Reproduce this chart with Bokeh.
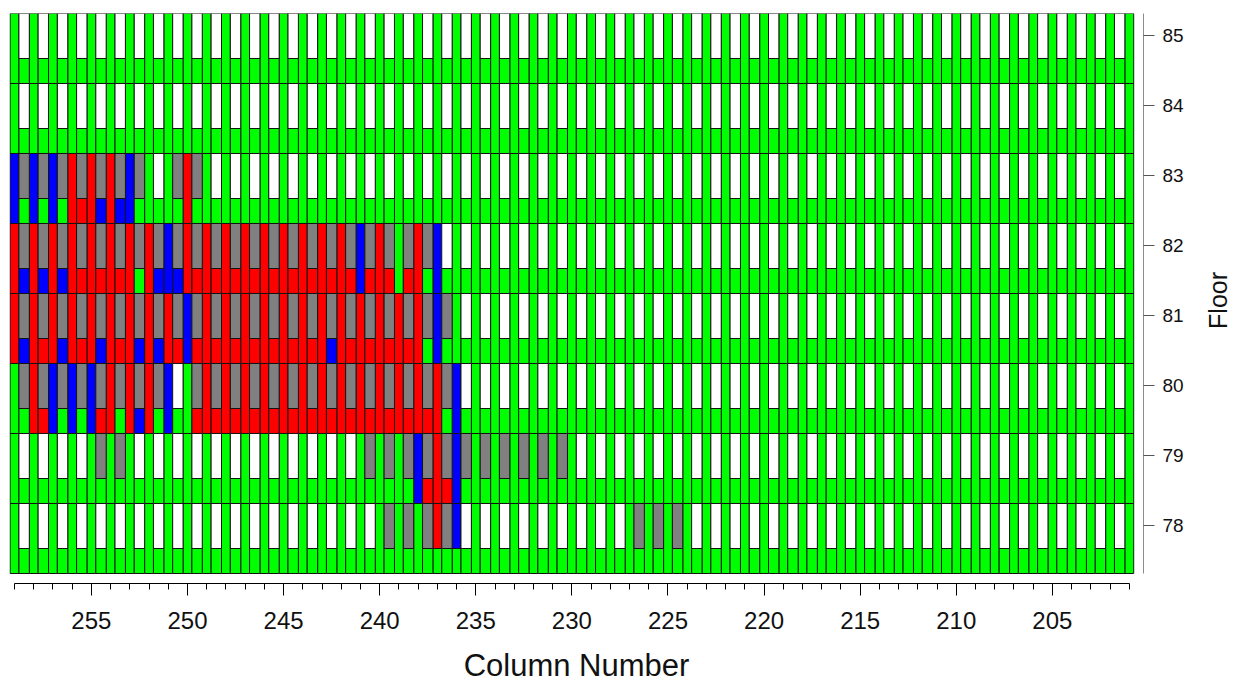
import math
from bokeh.plotting import figure
from bokeh.layouts import row
from bokeh.core.properties import value
from bokeh.models import Range1d, SingleIntervalTicker, FixedTicker, ColumnDataSource
from bokeh.embed import file_html
from bokeh.resources import INLINE

# ---------------- data ----------------
FLOORS = [85, 84, 83, 82, 81, 80, 79, 78]
COLUMNS = list(range(259, 200, -1))          # column numbers 259 -> 201 (piers)
Y_TITLE = "Floor"
X_TITLE = "Column Number"

# codes: G green, W white, Y gray, R red, B blue
# piers (upper part), columns 259 -> 201, grouped by 5
PIER_UP = {
    85: "GGGGG GGGGG GGGGG GGGGG GGGGG GGGGG GGGGG GGGGG GGGGG GGGGG GGGGG GGGG",
    84: "GGGGG GGGGG GGGGG GGGGG GGGGG GGGGG GGGGG GGGGG GGGGG GGGGG GGGGG GGGG",
    83: "BBBRR RBGGR GGGGG GGGGG GGGGG GGGGG GGGGG GGGGG GGGGG GGGGG GGGGG GGGG",
    82: "RRRRR RRRBR RRRRR RRRBR GRBGG GGGGG GGGGG GGGGG GGGGG GGGGG GGGGG GGGG",
    81: "RRRRR RRRRB RRRRR RRRRR RRBGG GGGGG GGGGG GGGGG GGGGG GGGGG GGGGG GGGG",
    80: "GRBBB RRRBG RRRRR RRRRR RRRBG GGGGG GGGGG GGGGG GGGGG GGGGG GGGGG GGGG",
    79: "GGGGG GGGGG GGGGG GGGGG GBRBG GGGGG GGGGG GGGGG GGGGG GGGGG GGGGG GGGG",
    78: "GGGGG GGGGG GGGGG GGGGG GGRBG GGGGG GGGGG GGGGG GGGGG GGGGG GGGGG GGGG",
}
# piers (lower part, spandrel level)
PIER_LOW = {
    85: PIER_UP[85], 84: PIER_UP[84], 83: PIER_UP[83], 82: PIER_UP[82],
    81: PIER_UP[81], 80: PIER_UP[80], 79: PIER_UP[79],
    78: "GGGGG GGGGG GGGGG GGGGG GGGGG GGGGG GGGGG GGGGG GGGGG GGGGG GGGGG GGGG",
}
# windows, bays 258.5 -> 201.5, grouped by 5
WINDOWS = {
    85: "WWWWW WWWWW WWWWW WWWWW WWWWW WWWWW WWWWW WWWWW WWWWW WWWWW WWWWW WWW",
    84: "WWWWW WWWWW WWWWW WWWWW WWWWW WWWWW WWWWW WWWWW WWWWW WWWWW WWWWW WWW",
    83: "YYYYY YYWYY WWWWW WWWWW WWWWW WWWWW WWWWW WWWWW WWWWW WWWWW WWWWW WWW",
    82: "YYYYY YYYYY YYYYY YYYYY YYWWW WWWWW WWWWW WWWWW WWWWW WWWWW WWWWW WWW",
    81: "YYYYY YYYYY YYYYY YYYYY YYYWW WWWWW WWWWW WWWWW WWWWW WWWWW WWWWW WWW",
    80: "YYYYY YYYWY YYYYY YYYYY YYYWW WWWWW WWWWW WWWWW WWWWW WWWWW WWWWW WWW",
    79: "WWWWY YWWWW WWWWW WWWYY YYYYY YYYYW WWWWW WWWWW WWWWW WWWWW WWWWW WWW",
    78: "WWWWW WWWWW WWWWW WWWWY YYYWW WWWWW WWYYY WWWWW WWWWW WWWWW WWWWW WWW",
}
# spandrels below windows, bays 258.5 -> 201.5
SPANDRELS = {
    85: "GGGGG GGGGG GGGGG GGGGG GGGGG GGGGG GGGGG GGGGG GGGGG GGGGG GGGGG GGG",
    84: "GGGGG GGGGG GGGGG GGGGG GGGGG GGGGG GGGGG GGGGG GGGGG GGGGG GGGGG GGG",
    83: "GGGRB BGGGG GGGGG GGGGG GGGGG GGGGG GGGGG GGGGG GGGGG GGGGG GGGGG GGG",
    82: "BBBRR RGBBR RRRRR RRRRR RGGGG GGGGG GGGGG GGGGG GGGGG GGGGG GGGGG GGG",
    81: "BRBRB RBBRR RRRRR RBRRR RGGGG GGGGG GGGGG GGGGG GGGGG GGGGG GGGGG GGG",
    80: "GRGGR GBGGR RRRRR RRRRR RRGGG GGGGG GGGGG GGGGG GGGGG GGGGG GGGGG GGG",
    79: "GGGGG GGGGG GGGGG GGGGG GRRGG GGGGG GGGGG GGGGG GGGGG GGGGG GGGGG GGG",
    78: "GGGGG GGGGG GGGGG GGGGG GGGGG GGGGG GGGGG GGGGG GGGGG GGGGG GGGGG GGG",
}

PALETTE = {"G": "#00FF00", "W": "#FFFFFF", "Y": "#808080", "R": "#FF0000", "B": "#0000FF"}

# ---------------- geometry (styles) ----------------
PH = 0.23          # half pier width
TOP_OFF = 0.314    # floor top above floor tick
MID_OFF = 0.329    # window bottom below floor tick
BOT_OFF = 0.686    # floor bottom below floor tick
FONT = "Liberation Sans"


def cells(s):
    return list(s.replace(" ", ""))


L, R, T, B, C = [], [], [], [], []


def add(l, r, t, b, code):
    L.append(l); R.append(r); T.append(t); B.append(b); C.append(PALETTE[code])


for f in FLOORS:
    up, lo = cells(PIER_UP[f]), cells(PIER_LOW[f])
    win, spn = cells(WINDOWS[f]), cells(SPANDRELS[f])
    top, mid, bot = f + TOP_OFF, f - MID_OFF, f - BOT_OFF
    for i, c in enumerate(COLUMNS):
        if up[i] == lo[i]:
            add(c + PH, c - PH, top, bot, up[i])
        else:
            add(c + PH, c - PH, top, mid, up[i])
            add(c + PH, c - PH, mid, bot, lo[i])
    for i, c in enumerate(COLUMNS[:-1]):
        add(c - PH, c - 1 + PH, top, mid, win[i])
        add(c - PH, c - 1 + PH, mid, bot, spn[i])

src = ColumnDataSource(dict(left=L, right=R, top=T, bottom=B, color=C))

fig = figure(frame_width=1134, frame_height=570,
             x_range=Range1d(259.26, 200.26), y_range=Range1d(77.171, 85.314),
             output_backend="svg", toolbar_location=None, y_axis_location="right",
             min_border_left=9, min_border_top=13, min_border_right=42, min_border_bottom=0)
fig.background_fill_color = "white"
fig.border_fill_color = "white"
fig.outline_line_color = None
fig.xgrid.visible = False
fig.ygrid.visible = False

fig.quad(left="left", right="right", top="top", bottom="bottom", source=src,
         fill_color="color", line_color="#141414", line_width=1)

xa = fig.xaxis[0]
xa.ticker = SingleIntervalTicker(interval=5, num_minor_ticks=5)
xa.bounds = (201, 259)
xa.major_tick_out = 12
xa.major_tick_in = 0
xa.minor_tick_out = 6
xa.minor_tick_in = 0
xa.axis_line_color = "black"
xa.major_tick_line_color = "black"
xa.minor_tick_line_color = "black"
xa.major_label_text_font = FONT
xa.major_label_text_font_size = "24px"
xa.major_label_text_color = "#111111"
xa.major_label_standoff = 16
xa.axis_label = X_TITLE
xa.axis_label_text_font = FONT
xa.axis_label_text_font_size = "31px"
xa.axis_label_text_font_style = "normal"
xa.axis_label_text_color = "#111111"
xa.axis_label_standoff = 16

ya = fig.yaxis[0]
ya.ticker = FixedTicker(ticks=FLOORS)
ya.bounds = (77.314, 85.314)
ya.major_tick_out = 11
ya.major_tick_in = 0
ya.minor_tick_out = 0
ya.minor_tick_in = 0
ya.axis_line_color = "#8c8c8c"
ya.major_tick_line_color = "#555555"
ya.major_label_text_font = FONT
ya.major_label_text_font_size = "19px"
ya.major_label_text_color = "#111111"
ya.major_label_standoff = 8

# narrow side figure carrying the rotated "Floor" title
side = figure(width=48, height=600, x_range=Range1d(0, 48), y_range=Range1d(0, 600),
              output_backend="svg", toolbar_location=None,
              x_axis_location=None, y_axis_location=None, min_border=0)
side.outline_line_color = None
side.background_fill_color = "white"
side.border_fill_color = "white"
side.xgrid.visible = False
side.ygrid.visible = False
side.text(x=[31], y=[245], text=[Y_TITLE], angle=math.pi / 2,
          text_align="center", text_baseline="middle",
          text_font=value(FONT), text_font_size="25px", text_color="#111111")

p = row(fig, side)

open("out.html", "w").write(file_html(p, INLINE))
